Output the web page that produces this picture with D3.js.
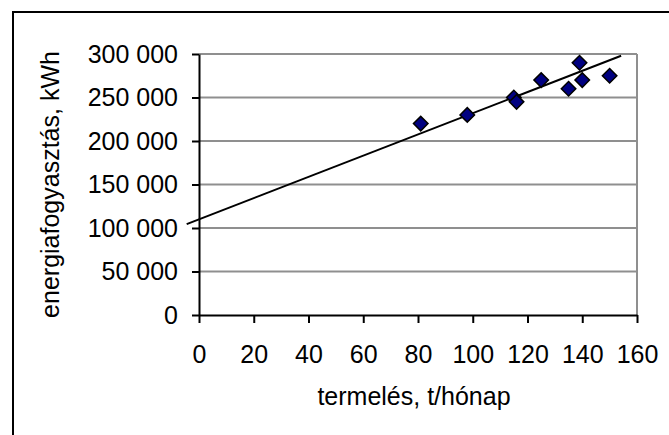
<!DOCTYPE html>
<html>
<head>
<meta charset="utf-8">
<script src="https://cdn.jsdelivr.net/npm/d3@7"></script>
<style>
  body { margin: 0; background: #fff; }
  svg { display: block; font-family: "Liberation Sans", Arial, sans-serif; }
</style>
</head>
<body>
<div id="chart"></div>
<script>
// production (t/month) and energy use (kWh)
const production = [81, 98, 115, 116, 125, 135, 139, 140, 150];
const energy = [220000, 230000, 250000, 245000, 270000, 260000, 290000, 270000, 275000];

// trend line end points as drawn in the picture
const trendX = [-4.5, 154.2];
const trendY = [104500, 298000];

const xTicks = [0, 20, 40, 60, 80, 100, 120, 140, 160];
const yTicks = [0, 50000, 100000, 150000, 200000, 250000, 300000];

const xTitle = "termelés, t/hónap";
const yTitle = "energiafogyasztás, kWh";

const width = 669, height = 435;
const plot = { left: 199, right: 637, top: 54, bottom: 315 };

const svg = d3.select("#chart")
  .append("svg")
  .attr("width", width)
  .attr("height", height);

// outer chart frame (runs off the right and bottom edges)
svg.append("path")
  .attr("d", `M13,${height + 5}V12H${width + 5}`)
  .attr("fill", "none")
  .attr("stroke", "#000")
  .attr("stroke-width", 2);

const x = d3.scaleLinear().domain([0, 160]).range([plot.left, plot.right]);
const y = d3.scaleLinear().domain([0, 300000]).range([plot.bottom, plot.top]);

const fmt = d3.formatLocale({ decimal: ",", thousands: " ", grouping: [3], currency: ["", ""] }).format(",");

// gridlines
svg.append("g")
  .selectAll("line")
  .data(yTicks.filter(d => d > 0))
  .join("line")
  .attr("x1", plot.left).attr("x2", plot.right)
  .attr("y1", d => y(d)).attr("y2", d => y(d))
  .attr("stroke", "#8f8f8f")
  .attr("stroke-width", 2);

// right border of plot area
svg.append("line")
  .attr("x1", plot.right).attr("x2", plot.right)
  .attr("y1", plot.top).attr("y2", plot.bottom)
  .attr("stroke", "#8f8f8f")
  .attr("stroke-width", 2);

// axes
const xAxis = svg.append("g")
  .attr("transform", `translate(0,${plot.bottom})`)
  .call(d3.axisBottom(x).tickValues(xTicks).tickSize(8).tickPadding(22).tickSizeOuter(0));
const yAxis = svg.append("g")
  .attr("transform", `translate(${plot.left},0)`)
  .call(d3.axisLeft(y).tickValues(yTicks).tickSize(7).tickPadding(14).tickFormat(fmt).tickSizeOuter(0));

[xAxis, yAxis].forEach(a => {
  a.select(".domain").attr("stroke", "#000").attr("stroke-width", 2);
  a.selectAll(".tick line").attr("stroke", "#000").attr("stroke-width", 2);
  a.selectAll(".tick text")
    .attr("fill", "#000")
    .style("font-size", "25px")
    .style("font-family", "'Liberation Sans', Arial, sans-serif");
});

// trend line
svg.append("line")
  .attr("x1", x(trendX[0])).attr("y1", y(trendY[0]))
  .attr("x2", x(trendX[1])).attr("y2", y(trendY[1]))
  .attr("stroke", "#000")
  .attr("stroke-width", 2);

// diamond markers
const diamond = d3.symbol().type(d3.symbolSquare).size(105);
svg.append("g")
  .selectAll("path")
  .data(production.map((p, i) => [p, energy[i]]))
  .join("path")
  .attr("d", diamond)
  .attr("transform", d => `translate(${x(d[0])},${y(d[1])}) rotate(45)`)
  .attr("fill", "#000080")
  .attr("stroke", "#000")
  .attr("stroke-width", 1.5);

// axis titles
svg.append("text")
  .attr("x", (plot.left + plot.right) / 2 - 4)
  .attr("y", 405)
  .attr("text-anchor", "middle")
  .style("font-size", "25px")
  .text(xTitle);

svg.append("text")
  .attr("transform", `translate(59,${(plot.top + plot.bottom) / 2}) rotate(-90)`)
  .attr("text-anchor", "middle")
  .style("font-size", "25px")
  .text(yTitle);
</script>
</body>
</html>
